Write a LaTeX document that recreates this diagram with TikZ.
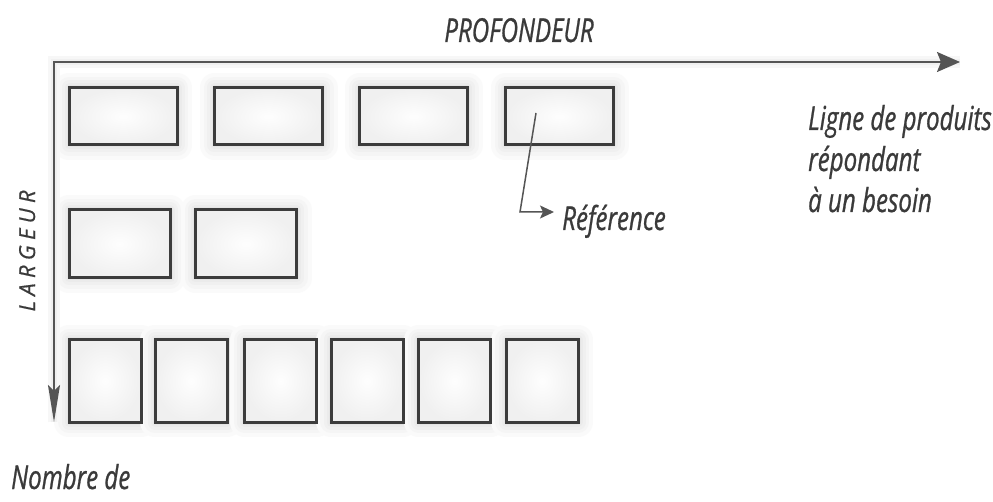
\documentclass[tikz,border=0pt]{standalone}
\usepackage{fontspec}
\usetikzlibrary{arrows.meta,backgrounds}
\newfontfamily\labelfont[FakeStretch=0.73,FakeBold=0.8]{Open Sans}
\newfontfamily\sidefont[LetterSpace=24,FakeBold=0.6]{Open Sans}
\definecolor{ink}{HTML}{3A3A3A}
\definecolor{axisgray}{HTML}{555555}
\definecolor{boxline}{HTML}{3C3C3C}

\begin{document}
\begin{tikzpicture}[x=1pt,y=-1pt,
  prod/.style={draw=boxline, line width=3pt, inner sep=0pt, outer sep=0pt,
    inner color=gray!1, outer color=gray!12},
  halo/.style={
    preaction={draw=black!2, line width=30pt, line join=round},
    preaction={draw=black!4, line width=22pt, line join=round},
    preaction={draw=black!6, line width=15pt, line join=round},
    preaction={draw=black!8, line width=9pt, line join=round},
    preaction={draw=black!10, line width=5pt, line join=round}},
  wide/.style={prod, minimum width=108pt, minimum height=57pt},
  mid/.style={prod, minimum width=101pt, minimum height=68pt},
  sq/.style={prod, minimum width=72pt, minimum height=82pt},
  lbl/.style={inner sep=0pt, text=ink, font=\labelfont\itshape\fontsize{33}{39}\selectfont},
  axis/.style={draw=axisgray, line width=2pt,
    preaction={draw=black!3, line width=12pt, arrows=-},
    preaction={draw=black!6, line width=6pt, arrows=-}},
  pointer/.style={draw=axisgray, line width=1.5pt}]

\useasboundingbox (0,0) rectangle (993,502);

% axes: depth to the right, width downwards
\coordinate (origin) at (54,62);
\coordinate (hend) at (960,62);
\coordinate (vend) at (54,422);

% first line of products
\node[wide] (b11) at (123,116.5) {};
\node[wide] (b12) at (268.5,116.5) {};
\node[wide] (b13) at (413.5,116.5) {};
\node[wide] (b14) at (559.5,116.5) {};

% second line
\node[mid] (b21) at (119.5,244) {};
\node[mid] (b22) at (246,244) {};

% third line
\node[sq] (b31) at (105,381) {};
\node[sq] (b32) at (191,381) {};
\node[sq] (b33) at (280.5,381) {};
\node[sq] (b34) at (367,381) {};
\node[sq] (b35) at (454.5,381) {};
\node[sq] (b36) at (542,381) {};

% soft glow behind every product box and the axes
\begin{pgfonlayer}{background}
  \fill[white] (0,0) rectangle (993,502);
  \foreach \b in {b11,b12,b13,b14,b21,b22,b31,b32,b33,b34,b35,b36}
    \path[halo] (\b.south west) rectangle (\b.north east);
  \draw[axis, {Stealth[length=37pt,width=12pt,inset=6pt]}-{Stealth[length=23pt,width=20pt,inset=4pt]}]
    (vend) -- (origin) -- (hend);
\end{pgfonlayer}

% labels
\node[lbl, anchor=base] (prof) at (519,42) {PROFONDEUR};
\node[lbl, anchor=base, rotate=90, font=\sidefont\itshape\fontsize{22}{26}\selectfont]
      (larg) at (35,251) {LARGEUR};
\node[lbl, anchor=base west] (l1) at (808,130) {Ligne de produits};
\node[lbl, anchor=base west] (l2) at (808,171) {répondant};
\node[lbl, anchor=base west] (l3) at (808,212) {à un besoin};
\node[lbl, anchor=base west] (nb) at (11,489) {Nombre de};
\node[lbl, anchor=base west] (ref) at (562,230) {Référence};

% pointer from a product to its label
\coordinate (refstart) at (536,113);
\coordinate (refcorner) at (520,212);
\draw[pointer, -{Stealth[length=14pt,width=13pt,inset=3pt]}]
  (refstart) -- (refcorner) -- ([xshift=-8pt]ref.west |- refcorner);
\end{tikzpicture}
\end{document}
